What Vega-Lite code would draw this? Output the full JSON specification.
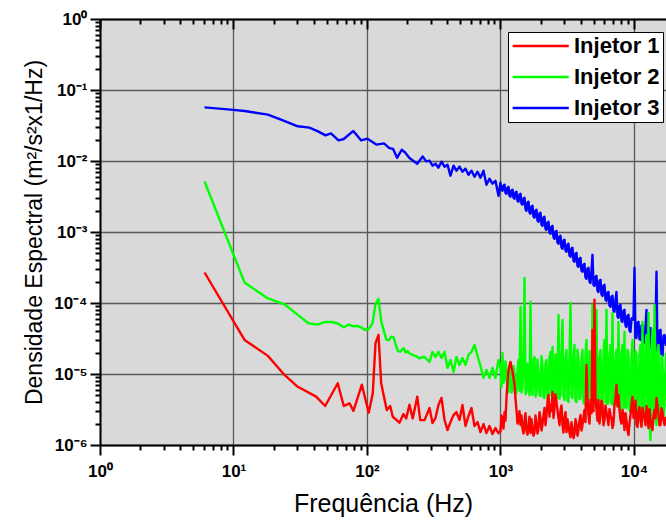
{
"$schema":"https://vega.github.io/schema/vega-lite/v6.json",
"width":566,"height":426,
"autosize":{"type":"none"},
"padding":{"left":100,"top":19,"right":0,"bottom":76},
"background":"white",
"config":{"view":{"fill":"#d9d9d9","stroke":null},"font":"Liberation Sans"},
"data":{"values":[
{"f":6.07,"a":2.69e-4,"b":5.15e-3,"c":0.057},
{"f":10,"c":0.0524},
{"f":12.1,"a":3.02e-5,"b":1.94e-4,"c":0.0507},
{"f":18.1,"a":1.8e-5,"b":1.16e-4,"c":0.045},
{"f":22.7,"c":0.0382},
{"f":24.1,"a":9.7e-6,"b":9.6e-5},
{"f":30.3,"a":6.6e-6,"b":6.8e-5,"c":0.0308},
{"f":36.4,"b":5.19e-5},
{"f":37,"c":0.0295},
{"f":41.6,"a":4.8e-6},
{"f":42.6,"b":4.96e-5,"c":0.0264},
{"f":48.6,"a":3.54e-6,"b":5.41e-5},
{"f":48.9,"c":0.023},
{"f":53.7,"c":0.0245},
{"f":54.7,"b":5.4e-5},
{"f":60.4,"a":7.4e-6},
{"f":60.8,"b":5.1e-5},
{"f":61.2,"c":0.0195},
{"f":67,"a":3.54e-6,"b":4.56e-5,"c":0.0204},
{"f":73,"b":4.96e-5},
{"f":74,"a":3.86e-6},
{"f":79,"b":4.7e-5,"c":0.0265},
{"f":79.2,"a":3.03e-6},
{"f":85,"b":4.75e-5},
{"f":90.5,"c":0.0195},
{"f":91,"b":4.5e-5},
{"f":91.5,"a":7.06e-6},
{"f":97,"b":4.17e-5},
{"f":101,"c":0.0206},
{"f":103,"a":2.85e-6,"b":4.3e-5},
{"f":110,"b":5.19e-5},
{"f":110.5,"a":5.35e-6},
{"f":115.8,"a":2.71e-5},
{"f":116,"b":9.9e-5},
{"f":118,"c":0.017},
{"f":122,"a":3.55e-5,"b":1.14e-4},
{"f":127.7,"a":7.4e-6},
{"f":128,"b":5.47e-5},
{"f":134,"b":4.0e-5,"c":0.0177},
{"f":140,"b":3.02e-5},
{"f":140.6,"a":3.1e-6},
{"f":146,"b":3.0e-5},
{"f":147,"c":0.0152},
{"f":149.2,"a":3.54e-6},
{"f":152,"b":3.36e-5},
{"f":156,"a":2.5e-6},
{"f":157,"c":0.0148},
{"f":158,"b":3.3e-5},
{"f":165,"b":2.5e-5},
{"f":168,"c":0.0111},
{"f":171,"b":2.1e-5},
{"f":175,"a":2.06e-6},
{"f":177,"b":2.06e-5},
{"f":182,"c":0.0144},
{"f":183,"b":2.2e-5},
{"f":187.6,"a":2.73e-6},
{"f":189,"b":2.31e-5},
{"f":193,"c":0.0132},
{"f":195,"b":2.0e-5},
{"f":196.6,"a":2.37e-6},
{"f":201,"b":2.1e-5},
{"f":208,"a":3.69e-6,"b":1.96e-5,"c":0.011},
{"f":220,"a":2.37e-6,"b":1.85e-5},
{"f":233,"b":1.79e-5},
{"f":238,"a":4.8e-6,"c":0.00916},
{"f":246,"b":1.66e-5},
{"f":250.6,"a":2.24e-6},
{"f":261,"c":0.0116},
{"f":268,"b":1.75e-5},
{"f":270,"a":2.24e-6},
{"f":278,"c":0.00987},
{"f":294,"a":3.32e-6,"b":1.48e-5,"c":1.01e-2},
{"f":309.5,"a":2.04e-6,"b":2.05e-5,"c":8.6e-3},
{"f":326,"a":2.4e-6,"b":1.74e-5,"c":9.14e-3},
{"f":343,"a":3.66e-6,"b":2.05e-5,"c":8.06e-3},
{"f":361.5,"a":4.6e-6,"b":1.68e-5,"c":9.78e-3},
{"f":381,"a":2.25e-6,"b":2.05e-5,"c":8.33e-3},
{"f":401,"a":1.62e-6,"b":1.22e-5,"c":8.87e-3},
{"f":422,"a":2.1e-6,"b":1.58e-5,"c":6.21e-3},
{"f":445,"a":2.64e-6,"b":1.07e-5,"c":8.6e-3},
{"f":468,"a":2.91e-6,"b":1.74e-5,"c":7.31e-3},
{"f":493,"a":2.25e-6,"b":1.34e-5,"c":8.33e-3},
{"f":519,"a":3.66e-6,"b":1.68e-5,"c":7.06e-3},
{"f":547,"a":1.85e-6,"b":1.34e-5,"c":7.8e-3},
{"f":576,"a":2.56e-6,"b":1.86e-5,"c":6.42e-3},
{"f":606,"a":3.32e-6,"b":2.05e-5,"c":7.31e-3},
{"f":639,"a":1.85e-6,"b":2.57e-5,"c":6.0e-3},
{"f":673,"a":2.1e-6,"b":1.8e-5,"c":7.06e-3},
{"f":708,"a":1.52e-6,"b":1.3e-5,"c":5.82e-3},
{"f":746,"a":1.97e-6,"b":8.8e-6,"c":7.31e-3},
{"f":785,"a":1.47e-6,"b":1.14e-5,"c":4.64e-3},
{"f":827,"a":1.85e-6,"b":8.8e-6,"c":5.63e-3},
{"f":871,"a":1.43e-6,"b":1.22e-5,"c":4.79e-3},
{"f":917,"a":1.73e-6,"b":8.8e-6,"c":5.27e-3},
{"f":966,"a":1.47e-6,"b":1.58e-5,"c":3.24e-3},
{"f":1000,"a":1.57e-6,"b":1.26e-5,"c":4.94e-3},
{"f":1035,"a":2.25e-6,"b":1.98e-5,"c":3.81e-3},
{"f":1072,"a":2.91e-6,"b":8.25e-6,"c":4.64e-3},
{"f":1109,"a":4.6e-6,"b":1.07e-5,"c":3.46e-3},
{"f":1148,"a":1.14e-5,"b":5.58e-6,"c":4.34e-3},
{"f":1188,"a":1.48e-5,"b":8.8e-6,"c":3.14e-3},
{"f":1230,"a":1.07e-5,"b":5.96e-6,"c":3.94e-3},
{"f":1273,"a":7.0e-6,"b":9.7e-6,"c":2.94e-3},
{"f":1318,"a":3.11e-6,"b":5.58e-6,"c":3.69e-3},
{"f":1364,"a":2.25e-6,"b":1.58e-5,"c":2.67e-3},
{"f":1412,"a":1.91e-6,"b":8.8e-5,"c":3.46e-3},
{"f":1461,"a":1.73e-6,"b":6.37e-6,"c":2.42e-3},
{"f":1513,"a":2.1e-6,"b":2.26e-4,"c":3.04e-3},
{"f":1566,"a":1.57e-6,"b":5.58e-6,"c":1.99e-3},
{"f":1621,"a":1.85e-6,"b":8.25e-6,"c":2.67e-3},
{"f":1678,"a":1.47e-6,"b":1.04e-4,"c":1.81e-3},
{"f":1737,"a":1.73e-6,"b":5.06e-6,"c":2.34e-3},
{"f":1798,"a":1.52e-6,"b":1.74e-5,"c":1.59e-3},
{"f":1861,"a":1.97e-6,"b":5.4e-6,"c":2.06e-3},
{"f":1926,"a":1.73e-6,"b":1.07e-5,"c":1.39e-3},
{"f":1994,"a":2.4e-6,"b":4.89e-6,"c":1.87e-3},
{"f":2064,"a":1.97e-6,"b":1.34e-5,"c":1.22e-3},
{"f":2136,"a":3.32e-6,"b":4.6e-6,"c":1.64e-3},
{"f":2211,"a":2.64e-6,"b":1.58e-5,"c":1.07e-3},
{"f":2289,"a":5.06e-6,"b":4.89e-6,"c":1.39e-3},
{"f":2369,"a":3.66e-6,"b":2.05e-5,"c":9.45e-4},
{"f":2452,"a":5.58e-6,"b":2.41e-5,"c":1.22e-3},
{"f":2538,"a":3.32e-6,"b":4.6e-6,"c":8.03e-4},
{"f":2627,"a":4.03e-6,"b":1.34e-5,"c":1.04e-3},
{"f":2720,"a":2.4e-6,"b":6.81e-5,"c":6.83e-4},
{"f":2815,"a":3.11e-6,"b":5.06e-6,"c":8.85e-4},
{"f":2914,"a":1.91e-6,"b":5.79e-5,"c":5.81e-4},
{"f":3016,"a":2.4e-6,"b":4.3e-6,"c":7.78e-4},
{"f":3122,"a":1.52e-6,"b":2.18e-5,"c":5.27e-4},
{"f":3231,"a":1.91e-6,"b":4.03e-6,"c":6.83e-4},
{"f":3345,"a":1.29e-6,"b":1.0e-4,"c":4.48e-4},
{"f":3462,"a":1.73e-6,"b":4.6e-6,"c":6.0e-4},
{"f":3583,"a":1.43e-6,"b":2.57e-5,"c":3.8e-4},
{"f":3709,"a":1.97e-6,"b":4.03e-6,"c":5.09e-4},
{"f":3839,"a":1.62e-6,"b":1.58e-5,"c":3.23e-4},
{"f":3974,"a":2.64e-6,"b":4.6e-6,"c":4.33e-4},
{"f":4113,"a":1.91e-6,"b":2.18e-5,"c":2.75e-4},
{"f":4258,"a":3.11e-6,"b":3.78e-6,"c":3.56e-4},
{"f":4407,"a":1.34e-5,"b":3.02e-5,"c":2.19e-4},
{"f":4562,"a":2.64e-6,"b":4.3e-6,"c":3.13e-4},
{"f":4722,"a":4.3e-6,"b":1.86e-5,"c":1.92e-4},
{"f":4887,"a":4.18e-5,"b":9.43e-5,"c":4.77e-4},
{"f":5059,"a":1.11e-4,"b":4.6e-6,"c":1.74e-4},
{"f":5236,"a":3.11e-6,"b":8.01e-5,"c":2.41e-4},
{"f":5420,"a":4.3e-6,"b":4.03e-6,"c":1.43e-4},
{"f":5610,"a":2.64e-6,"b":2.18e-5,"c":2.12e-4},
{"f":5807,"a":3.66e-6,"b":3.66e-6,"c":1.26e-4},
{"f":6011,"a":2.25e-6,"b":3.02e-5,"c":1.8e-4},
{"f":6222,"a":2.91e-6,"b":8.01e-5,"c":1.07e-4},
{"f":6441,"a":1.91e-6,"b":4.03e-6,"c":1.43e-4},
{"f":6668,"a":2.64e-6,"b":2.57e-5,"c":8.83e-5},
{"f":6902,"a":1.73e-6,"b":7.27e-5,"c":1.26e-4},
{"f":7143,"a":3.66e-6,"b":3.66e-6,"c":7.51e-5},
{"f":7394,"a":7.0e-6,"b":2.18e-5,"c":1.43e-4},
{"f":7654,"a":5.06e-6,"b":5.42e-5,"c":6.18e-5},
{"f":7923,"a":2.25e-6,"b":3.11e-6,"c":9.43e-5},
{"f":8201,"a":3.11e-6,"b":2.57e-5,"c":5.42e-5},
{"f":8488,"a":1.62e-6,"b":3.92e-5,"c":8.01e-5},
{"f":8786,"a":2.25e-6,"b":3.32e-6,"c":4.61e-5},
{"f":9095,"a":1.38e-6,"b":1.86e-5,"c":6.81e-5},
{"f":9414,"a":2.64e-6,"b":2.91e-6,"c":3.92e-5},
{"f":9745,"a":4.75e-6,"b":3.02e-5,"c":6.18e-5},
{"f":10087,"a":3.11e-6,"b":3.66e-6,"c":3.13e-4},
{"f":10441,"a":1.91e-6,"b":1.86e-5,"c":3.22e-5},
{"f":10807,"a":2.91e-6,"b":3.11e-6,"c":5.42e-5},
{"f":11187,"a":2.25e-6,"b":2.57e-5,"c":3.02e-5},
{"f":11580,"a":3.32e-6,"b":5.42e-5,"c":4.92e-5},
{"f":11987,"a":2.4e-6,"b":2.64e-6,"c":2.74e-5},
{"f":12407,"a":3.54e-6,"b":3.55e-5,"c":8.01e-5},
{"f":12843,"a":1.73e-6,"b":7.27e-5,"c":2.33e-5},
{"f":13294,"a":2.25e-6,"b":1.17e-6,"c":4.46e-5},
{"f":13761,"a":1.62e-6,"b":4.18e-5,"c":2.18e-5},
{"f":14244,"a":3.11e-6,"b":9.43e-5,"c":4.18e-5},
{"f":14744,"a":4.6e-6,"b":1.91e-6,"c":2.75e-4},
{"f":15262,"a":2.64e-6,"b":2.57e-5,"c":2.05e-5},
{"f":15798,"a":1.91e-6,"b":2.25e-6,"c":4.18e-5},
{"f":16353,"a":2.91e-6,"b":1.58e-5,"c":1.8e-5},
{"f":16927,"a":1.91e-6,"b":3.66e-6,"c":3.55e-5},
{"f":17370,"a":2.5e-6,"b":2.0e-5,"c":2.5e-5},
{"f":1017,"a":2.6e-6,"b":6.5e-6,"c":3.95e-3},
{"f":1053,"a":1.7e-6,"b":7.5e-6,"c":4.5e-3},
{"f":1090,"a":2.2e-6,"b":1.5e-5,"c":3.55e-3},
{"f":1128,"a":7.5e-6,"b":6.0e-6,"c":4.2e-3},
{"f":1168,"a":1.3e-5,"b":1.2e-5,"c":3.25e-3},
{"f":1209,"a":1.25e-5,"b":5.5e-6,"c":3.85e-3},
{"f":1251,"a":9.0e-6,"b":1.3e-5,"c":3.05e-3},
{"f":1295,"a":4.5e-6,"b":5.2e-6,"c":3.6e-3},
{"f":1341,"a":2.0e-6,"b":1.1e-5,"c":2.75e-3},
{"f":1388,"a":3.0e-6,"b":5.8e-6,"c":3.35e-3},
{"f":1436,"a":2.6e-6,"b":5.5e-6,"c":2.5e-3},
{"f":1487,"a":1.45e-6,"b":1.6e-5,"c":2.95e-3},
{"f":1539,"a":2.8e-6,"b":5.2e-6,"c":2.1e-3},
{"f":1593,"a":1.4e-6,"b":1.4e-5,"c":2.6e-3},
{"f":1649,"a":2.5e-6,"b":5.0e-6,"c":1.88e-3},
{"f":1707,"a":2.3e-6,"b":6.0e-6,"c":2.28e-3},
{"f":1767,"a":1.35e-6,"b":1.5e-5,"c":1.65e-3},
{"f":1829,"a":2.6e-6,"b":4.8e-6,"c":2.0e-3},
{"f":1893,"a":1.45e-6,"b":1.6e-5,"c":1.45e-3},
{"f":1960,"a":2.9e-6,"b":5.0e-6,"c":1.82e-3},
{"f":2029,"a":1.6e-6,"b":1.8e-5,"c":1.27e-3},
{"f":2100,"a":2.6e-6,"b":4.7e-6,"c":1.6e-3},
{"f":2173,"a":1.9e-6,"b":1.4e-5,"c":1.11e-3},
{"f":2250,"a":4.0e-6,"b":4.5e-6,"c":1.35e-3},
{"f":2329,"a":2.5e-6,"b":1.7e-5,"c":9.8e-4},
{"f":2410,"a":3.0e-6,"b":5.0e-6,"c":1.18e-3},
{"f":2495,"a":2.4e-6,"b":4.8e-6,"c":8.4e-4},
{"f":2582,"a":5.2e-6,"b":1.9e-5,"c":1.01e-3},
{"f":2673,"a":3.1e-6,"b":4.6e-6,"c":7.1e-4},
{"f":2767,"a":1.9e-6,"b":4.5e-6,"c":8.6e-4},
{"f":2864,"a":3.6e-6,"b":2.0e-5,"c":6.05e-4},
{"f":2965,"a":1.5e-6,"b":5.0e-6,"c":7.55e-4},
{"f":3069,"a":2.9e-6,"b":1.6e-5,"c":5.5e-4},
{"f":3176,"a":2.3e-6,"b":4.3e-6,"c":6.65e-4},
{"f":3288,"a":1.5e-6,"b":1.8e-5,"c":4.65e-4},
{"f":3403,"a":2.1e-6,"b":4.8e-6,"c":5.85e-4},
{"f":3522,"a":1.25e-6,"b":1.7e-5,"c":3.95e-4},
{"f":3646,"a":2.3e-6,"b":4.2e-6,"c":4.95e-4},
{"f":3773,"a":1.35e-6,"b":2.2e-5,"c":3.35e-4},
{"f":3906,"a":2.2e-6,"b":4.4e-6,"c":4.2e-4},
{"f":4043,"a":1.6e-6,"b":1.6e-5,"c":2.85e-4},
{"f":4185,"a":2.4e-6,"b":4.0e-6,"c":3.45e-4},
{"f":4332,"a":2.1e-6,"b":1.9e-5,"c":2.28e-4},
{"f":4484,"a":4.5e-6,"b":4.2e-6,"c":3.05e-4},
{"f":4641,"a":2.0e-6,"b":2.1e-5,"c":2.0e-4},
{"f":4804,"a":2.8e-6,"b":4.5e-6,"c":2.85e-4},
{"f":4972,"a":3.0e-6,"b":4.4e-6,"c":1.8e-4},
{"f":5147,"a":4.8e-6,"b":2.0e-5,"c":2.35e-4},
{"f":5327,"a":2.2e-6,"b":4.2e-6,"c":1.5e-4},
{"f":5514,"a":2.0e-6,"b":1.7e-5,"c":2.05e-4},
{"f":5708,"a":4.2e-6,"b":3.9e-6,"c":1.32e-4},
{"f":5908,"a":1.9e-6,"b":1.9e-5,"c":1.75e-4},
{"f":6115,"a":3.6e-6,"b":4.0e-6,"c":1.12e-4},
{"f":6331,"a":2.4e-6,"b":3.8e-6,"c":1.4e-4},
{"f":6554,"a":3.2e-6,"b":1.8e-5,"c":9.2e-5},
{"f":6784,"a":2.4e-6,"b":3.8e-6,"c":1.22e-4},
{"f":7022,"a":2.0e-6,"b":3.7e-6,"c":7.8e-5},
{"f":7268,"a":4.5e-6,"b":1.6e-5,"c":1.1e-4},
{"f":7523,"a":3.5e-6,"b":3.5e-6,"c":6.4e-5},
{"f":7787,"a":3.2e-6,"b":3.4e-6,"c":9.1e-5},
{"f":8061,"a":2.0e-6,"b":2.0e-5,"c":5.6e-5},
{"f":8343,"a":2.6e-6,"b":3.3e-6,"c":7.8e-5},
{"f":8636,"a":2.8e-6,"b":3.4e-6,"c":4.8e-5},
{"f":8939,"a":1.6e-6,"b":2.2e-5,"c":6.6e-5},
{"f":9253,"a":2.0e-6,"b":3.1e-6,"c":4.1e-5},
{"f":9578,"a":3.6e-6,"b":1.7e-5,"c":6.0e-5},
{"f":9915,"a":2.4e-6,"b":3.2e-6,"c":5.8e-5},
{"f":10263,"a":4.2e-6,"b":2.1e-5,"c":3.3e-5},
{"f":10623,"a":1.8e-6,"b":3.0e-6,"c":5.3e-5},
{"f":10996,"a":3.4e-6,"b":1.9e-5,"c":3.1e-5},
{"f":11382,"a":1.8e-6,"b":3.0e-6,"c":4.8e-5},
{"f":11782,"a":2.8e-6,"b":2.8e-6,"c":2.85e-5},
{"f":12196,"a":1.9e-6,"b":2.4e-5,"c":4.6e-5},
{"f":12624,"a":2.9e-6,"b":2.7e-6,"c":2.4e-5},
{"f":13067,"a":3.2e-6,"b":2.5e-6,"c":4.35e-5},
{"f":13526,"a":1.8e-6,"b":2.2e-5,"c":2.25e-5},
{"f":14001,"a":2.6e-6,"b":2.6e-6,"c":4.1e-5},
{"f":14492,"a":2.4e-6,"b":2.6e-6,"c":4.0e-5},
{"f":15001,"a":3.6e-6,"b":2.0e-5,"c":2.1e-5},
{"f":15528,"a":1.9e-6,"b":2.4e-6,"c":4.05e-5},
{"f":16073,"a":3.3e-6,"b":1.8e-5,"c":1.85e-5},
{"f":16638,"a":2.2e-6,"b":2.5e-6,"c":3.45e-5}
]},
"transform":[{"fold":["c","b","a"],"as":["s","v"]},{"filter":"isValid(datum.v) && datum.v > 0"}],
"layer":[
{"mark":{"type":"line","strokeWidth":2.4,"clip":true,"strokeJoin":"round"},
 "encoding":{
  "x":{"field":"f","type":"quantitative","scale":{"type":"log","domain":[1,17370],"nice":false},
   "axis":{"orient":"bottom","values":[1,10,100,1000,10000],
    "labelExpr":"datum.value < 5 ? '10⁰' : datum.value < 50 ? '10¹' : datum.value < 500 ? '10²' : datum.value < 5000 ? '10³' : '10⁴'",
    "title":"Frequência (Hz)","grid":true,"gridColor":"#5a5a5a","gridWidth":1.3,
    "tickSize":10,"tickWidth":2,"tickColor":"black","domainColor":"black","domainWidth":2,
    "labelFont":"Liberation Sans","labelFontSize":17,"labelFontWeight":"bold","labelColor":"black","labelPadding":8,
    "labelFlush":false,"labelOverlap":false,
    "titleFont":"Liberation Sans","titleFontSize":25,"titleFontWeight":"normal","titleColor":"black","titlePadding":12}},
  "y":{"field":"v","type":"quantitative","scale":{"type":"log","domain":[0.000001,1],"nice":false},
   "axis":{"orient":"left","values":[0.000001,0.00001,0.0001,0.001,0.01,0.1,1],
    "labelExpr":"datum.value > 0.5 ? '10⁰' : datum.value > 0.05 ? '10⁻¹' : datum.value > 0.005 ? '10⁻²' : datum.value > 0.0005 ? '10⁻³' : datum.value > 0.00005 ? '10⁻⁴' : datum.value > 0.000005 ? '10⁻⁵' : '10⁻⁶'",
    "title":"Densidade Espectral (m²/s²x1/Hz)","grid":true,"gridColor":"#5a5a5a","gridWidth":1.3,
    "tickSize":10,"tickWidth":2,"tickColor":"black","domainColor":"black","domainWidth":2,
    "labelFont":"Liberation Sans","labelFontSize":17,"labelFontWeight":"bold","labelColor":"black","labelPadding":3,
    "labelFlush":false,"labelOverlap":false,
    "titleFont":"Liberation Sans","titleFontSize":23,"titleFontWeight":"normal","titleColor":"black","titlePadding":7}},
  "color":{"field":"s","type":"nominal","scale":{"domain":["a","b","c"],"range":["#ff0000","#00ff00","#0000ff"]},
   "legend":{"orient":"none","legendX":408,"legendY":13,"title":null,"fillColor":"white","strokeColor":"black",
    "padding":3,"symbolType":"M-1,0H5","symbolSize":350,"symbolStrokeWidth":2.5,"symbolFillColor":"transparent",
    "labelFont":"Liberation Sans","labelFontSize":22,"labelFontWeight":"bold","labelColor":"black","labelOffset":41,
    "rowPadding":9,"labelExpr":"datum.label == 'a' ? 'Injetor 1' : datum.label == 'b' ? 'Injetor 2' : 'Injetor 3'"}}
 }},
{"mark":{"type":"point","opacity":0,"size":1},
 "encoding":{
  "x":{"field":"f","type":"quantitative","axis":{"orient":"bottom","values":[2,3,4,5,6,7,8,9,20,30,40,50,60,70,80,90,200,300,400,500,600,700,800,900,2000,3000,4000,5000,6000,7000,8000,9000],"labels":false,"domain":false,"grid":false,"title":null,"tickSize":5,"tickWidth":2,"tickColor":"black"}},
  "y":{"field":"v","type":"quantitative","axis":{"orient":"left","values":[0.000002,0.000003,0.000004,0.000005,0.000006,0.000007,0.000008,0.000009,0.00002,0.00003,0.00004,0.00005,0.00006,0.00007,0.00008,0.00009,0.0002,0.0003,0.0004,0.0005,0.0006,0.0007,0.0008,0.0009,0.002,0.003,0.004,0.005,0.006,0.007,0.008,0.009,0.02,0.03,0.04,0.05,0.06,0.07,0.08,0.09,0.2,0.3,0.4,0.5,0.6,0.7,0.8,0.9],"labels":false,"domain":false,"grid":false,"title":null,"tickSize":5,"tickWidth":2,"tickColor":"black"}}
 }},
{"mark":{"type":"point","opacity":0,"size":1},
 "encoding":{
  "x":{"field":"f","type":"quantitative","axis":{"orient":"top","values":[1,10,100,1000,10000],"labels":false,"domain":true,"domainColor":"black","domainWidth":2,"grid":false,"title":null,"tickSize":-10,"tickWidth":2,"tickColor":"black"}},
  "y":{"field":"v","type":"quantitative","axis":null}
 }},
{"mark":{"type":"point","opacity":0,"size":1},
 "encoding":{
  "x":{"field":"f","type":"quantitative","axis":{"orient":"top","values":[2,3,4,5,6,7,8,9,20,30,40,50,60,70,80,90,200,300,400,500,600,700,800,900,2000,3000,4000,5000,6000,7000,8000,9000],"labels":false,"domain":false,"grid":false,"title":null,"tickSize":-5,"tickWidth":2,"tickColor":"black"}},
  "y":{"field":"v","type":"quantitative","axis":null}
 }}
],
"resolve":{"axis":{"x":"independent","y":"independent"}}
}
